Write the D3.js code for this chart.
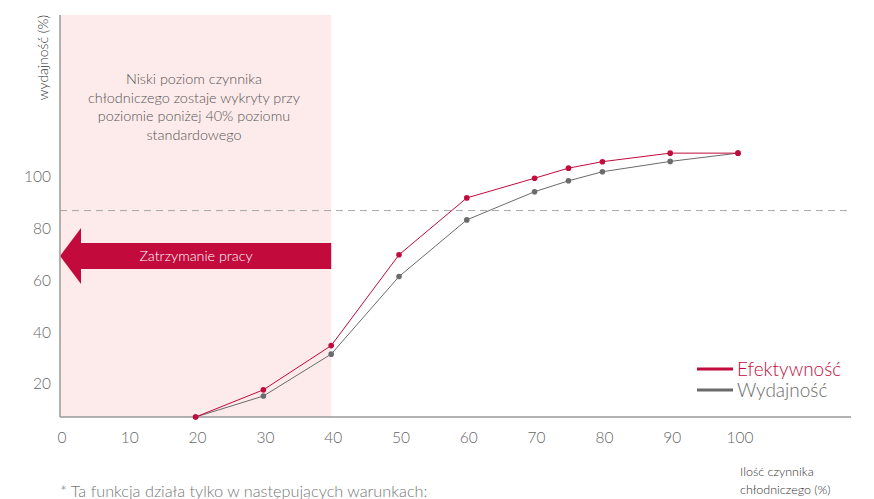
<!DOCTYPE html>
<html>
<head>
<meta charset="utf-8">
<script src="https://cdn.jsdelivr.net/npm/d3@7"></script>
<style>
  body { margin: 0; background: #fff; }
  svg { display: block; font-family: Lato, "Open Sans", sans-serif; font-weight: 300; }
</style>
</head>
<body>
<div id="chart"></div>
<script>
// refrigerant amount (%) on the x axis
const xValues = [20, 30, 40, 50, 60, 70, 75, 80, 90, 100];
const efektywnosc = [7.2, 17.7, 34.8, 69.9, 91.9, 99.5, 103.4, 105.9, 109.2, 109.2];
const wydajnosc = [7.2, 15.3, 31.5, 61.5, 83.4, 94.3, 98.5, 102.0, 106.0, 109.2];
const xTicks = [0, 10, 20, 30, 40, 50, 60, 70, 80, 90, 100];
const yTicks = [20, 40, 60, 80, 100];
const refLevel = 87;       // dashed reference line
const lowLimit = 40;       // shaded zone up to this x
const noteLines = ["Niski poziom czynnika", "chłodniczego zostaje wykryty przy",
                   "poziomie poniżej 40% poziomu", "standardowego"];
const seriesNames = ["Efektywność", "Wydajność"];

const red = "#c20a3c", grey = "#6b6b6b";
const W = 874, H = 499;

const svg = d3.select("#chart").append("svg")
    .attr("width", W).attr("height", H);

const x = d3.scaleLinear().domain([0, 100]).range([60, 738]);
const y = d3.scaleLinear().domain([7.2, 162.6]).range([417, 15]);
const xEnd = 851;

// shaded "low refrigerant" zone
svg.append("rect")
    .attr("x", x(0)).attr("y", y.range()[1])
    .attr("width", x(lowLimit) - x(0))
    .attr("height", y.range()[0] - y.range()[1])
    .attr("fill", "#fdeaea");

// note text inside zone
svg.append("text")
    .attr("x", 194).attr("y", 84)
    .attr("text-anchor", "middle")
    .attr("fill", "#555")
    .style("font-size", "14.4px")
    .selectAll("tspan").data(noteLines).join("tspan")
    .attr("x", 194).attr("dy", (d, i) => i === 0 ? 0 : 18.5)
    .text(d => d);

// dashed reference line
svg.append("line")
    .attr("x1", x(0)).attr("x2", xEnd)
    .attr("y1", y(refLevel)).attr("y2", y(refLevel))
    .attr("stroke", "#a8a8a8").attr("stroke-width", 1)
    .attr("stroke-dasharray", "7,5");

// stop arrow
const ay = 256;
const arrow = d3.path();
arrow.moveTo(x(0), ay);
arrow.lineTo(81, 228);
arrow.lineTo(81, 243);
arrow.lineTo(x(lowLimit), 243);
arrow.lineTo(x(lowLimit), 269);
arrow.lineTo(81, 269);
arrow.lineTo(81, 284);
arrow.closePath();
svg.append("path").attr("d", arrow.toString()).attr("fill", red);
svg.append("text")
    .attr("x", 196).attr("y", ay + 5)
    .attr("text-anchor", "middle")
    .attr("fill", "#fff")
    .style("font-size", "14.3px")
    .text("Zatrzymanie pracy");

// axes lines
svg.append("line")
    .attr("x1", x(0)).attr("x2", x(0))
    .attr("y1", y.range()[1]).attr("y2", y.range()[0])
    .attr("stroke", "#999").attr("stroke-width", 1.5);
svg.append("line")
    .attr("x1", x(0)).attr("x2", xEnd)
    .attr("y1", y.range()[0]).attr("y2", y.range()[0])
    .attr("stroke", "#999").attr("stroke-width", 1.5);

// tick labels
svg.append("g").selectAll("text").data(xTicks).join("text")
    .attr("x", d => x(d) + 2).attr("y", 443)
    .attr("text-anchor", "middle")
    .attr("fill", "#666")
    .style("font-size", "15.5px")
    .text(d => d);
svg.append("g").selectAll("text").data(yTicks).join("text")
    .attr("x", 51).attr("y", d => y(d) + 5.5)
    .attr("text-anchor", "end")
    .attr("fill", "#666")
    .style("font-size", "15.5px")
    .text(d => d);

// axis titles
svg.append("text")
    .attr("transform", "translate(48,15) rotate(-90)")
    .attr("text-anchor", "end")
    .attr("fill", "#333")
    .style("font-size", "14px")
    .text("wydajność (%)");
svg.append("text")
    .attr("x", 740).attr("y", 476)
    .attr("fill", "#333")
    .style("font-size", "12.5px")
    .selectAll("tspan").data(["Ilość czynnika", "chłodniczego (%)"]).join("tspan")
    .attr("x", 740).attr("dy", (d, i) => i === 0 ? 0 : 18)
    .text(d => d);

// footnote
svg.append("text")
    .attr("x", 60).attr("y", 497)
    .attr("fill", "#777")
    .style("font-size", "16.3px")
    .text("* Ta funkcja działa tylko w następujących warunkach:");

// series
const series = [
    { name: seriesNames[1], values: wydajnosc, color: grey },
    { name: seriesNames[0], values: efektywnosc, color: red }
];
const line = d3.line().x(d => x(d[0])).y(d => y(d[1]));

series.forEach(s => {
    const pts = xValues.map((v, i) => [v, s.values[i]]);
    svg.append("path")
        .datum(pts)
        .attr("d", line)
        .attr("fill", "none")
        .attr("stroke", s.color)
        .attr("stroke-width", 1);
    svg.append("g").selectAll("circle").data(pts).join("circle")
        .attr("cx", d => x(d[0])).attr("cy", d => y(d[1]))
        .attr("r", 2.8)
        .attr("fill", s.color);
});

// legend
const legend = svg.append("g").attr("transform", "translate(697,369)");
[{ name: seriesNames[0], color: red }, { name: seriesNames[1], color: grey }].forEach((d, i) => {
    const g = legend.append("g").attr("transform", `translate(0,${i * 21})`);
    g.append("line").attr("x1", 0).attr("x2", 36).attr("y1", 0).attr("y2", 0)
        .attr("stroke", d.color).attr("stroke-width", 3);
    g.append("text").attr("x", 40).attr("y", 6.5)
        .attr("fill", d.color)
        .style("font-size", "19px")
        .text(d.name);
});
</script>
</body>
</html>
